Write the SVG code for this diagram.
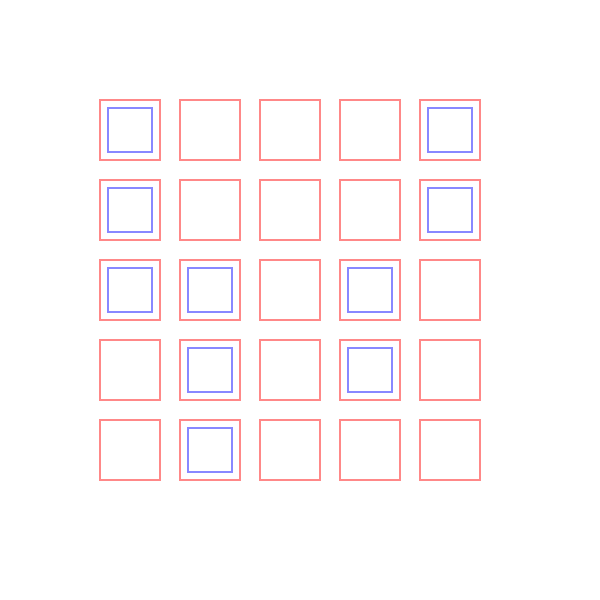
<svg xmlns="http://www.w3.org/2000/svg" width="600" height="600" viewBox="0 0 600 600">
<style>
.o{fill:none;stroke:#f88;stroke-width:2}
.i{fill:none;stroke:#88f;stroke-width:2}
</style>
<rect width="600" height="600" fill="#fff"/>
<g id="outer">
<rect class="o" x="100" y="100" width="60" height="60"/><rect class="o" x="180" y="100" width="60" height="60"/><rect class="o" x="260" y="100" width="60" height="60"/><rect class="o" x="340" y="100" width="60" height="60"/><rect class="o" x="420" y="100" width="60" height="60"/>
<rect class="o" x="100" y="180" width="60" height="60"/><rect class="o" x="180" y="180" width="60" height="60"/><rect class="o" x="260" y="180" width="60" height="60"/><rect class="o" x="340" y="180" width="60" height="60"/><rect class="o" x="420" y="180" width="60" height="60"/>
<rect class="o" x="100" y="260" width="60" height="60"/><rect class="o" x="180" y="260" width="60" height="60"/><rect class="o" x="260" y="260" width="60" height="60"/><rect class="o" x="340" y="260" width="60" height="60"/><rect class="o" x="420" y="260" width="60" height="60"/>
<rect class="o" x="100" y="340" width="60" height="60"/><rect class="o" x="180" y="340" width="60" height="60"/><rect class="o" x="260" y="340" width="60" height="60"/><rect class="o" x="340" y="340" width="60" height="60"/><rect class="o" x="420" y="340" width="60" height="60"/>
<rect class="o" x="100" y="420" width="60" height="60"/><rect class="o" x="180" y="420" width="60" height="60"/><rect class="o" x="260" y="420" width="60" height="60"/><rect class="o" x="340" y="420" width="60" height="60"/><rect class="o" x="420" y="420" width="60" height="60"/>
</g>
<g id="inner">
<rect class="i" x="108" y="108" width="44" height="44"/><rect class="i" x="428" y="108" width="44" height="44"/>
<rect class="i" x="108" y="188" width="44" height="44"/><rect class="i" x="428" y="188" width="44" height="44"/>
<rect class="i" x="108" y="268" width="44" height="44"/><rect class="i" x="188" y="268" width="44" height="44"/><rect class="i" x="348" y="268" width="44" height="44"/>
<rect class="i" x="188" y="348" width="44" height="44"/><rect class="i" x="348" y="348" width="44" height="44"/>
<rect class="i" x="188" y="428" width="44" height="44"/>
</g>
</svg>
